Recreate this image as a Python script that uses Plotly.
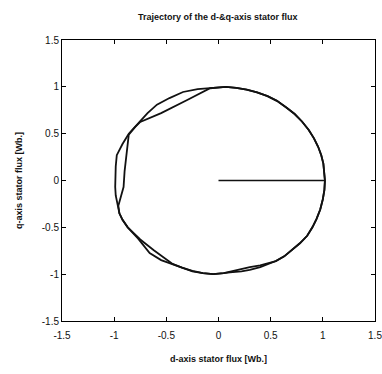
import plotly.graph_objects as go

# Flux build-up along the d-axis
startup_d = [0.0, 0.72, 1.02]
startup_q = [0.0, 0.0, 0.0]

# First revolution (with chord-like transients)
rev1_d = [1.02, 1.015, 1.005, 0.985, 0.955, 0.915, 0.865, 0.80, 0.73, 0.65, 0.56, 0.47,
          0.37, 0.27, 0.17, 0.07, -0.08, -0.30, -0.55, -0.75, -0.80, -0.86, -0.88,
          -0.90, -0.91, -0.94, -0.96, -0.95, -0.92, -0.87, -0.75, -0.62, -0.50, -0.44,
          -0.35, -0.25, -0.15, -0.05, 0.05, 0.11, 0.22, 0.30, 0.40, 0.47, 0.55, 0.63,
          0.71, 0.78, 0.85, 0.90, 0.94, 0.975, 1.00, 1.015, 1.02]
rev1_q = [0.0, 0.09, 0.18, 0.27, 0.36, 0.45, 0.54, 0.63, 0.71, 0.78, 0.85, 0.90,
          0.94, 0.97, 0.99, 1.00, 0.985, 0.86, 0.72, 0.625, 0.57, 0.49, 0.30,
          0.10, -0.07, -0.18, -0.27, -0.35, -0.42, -0.50, -0.63, -0.745, -0.84, -0.89,
          -0.93, -0.965, -0.99, -1.00, -0.99, -0.975, -0.94, -0.925, -0.905, -0.885, -0.86, -0.81,
          -0.74, -0.67, -0.59, -0.50, -0.41, -0.31, -0.20, -0.10, 0.0]

# Second revolution (steady-state circle)
rev2_d = [1.02, 1.015, 1.005, 0.985, 0.955, 0.915, 0.865, 0.80, 0.73, 0.65, 0.56, 0.47,
          0.37, 0.27, 0.17, 0.07, -0.08, -0.20, -0.34, -0.47, -0.59, -0.68, -0.75,
          -0.81, -0.86, -0.92, -0.975, -0.985, -0.99, -0.99, -0.985, -0.97, -0.95,
          -0.92, -0.87, -0.77, -0.66, -0.55, -0.44, -0.35, -0.25, -0.15, -0.05, 0.05,
          0.11, 0.22, 0.30, 0.40, 0.47, 0.55, 0.63, 0.71, 0.78, 0.85, 0.90, 0.94,
          0.975, 1.00, 1.015, 1.02]
rev2_q = [0.0, 0.09, 0.18, 0.27, 0.36, 0.45, 0.54, 0.63, 0.71, 0.78, 0.85, 0.90,
          0.94, 0.97, 0.99, 1.00, 0.99, 0.975, 0.945, 0.88, 0.81, 0.72, 0.635,
          0.56, 0.50, 0.39, 0.27, 0.15, 0.03, -0.07, -0.16, -0.25, -0.35,
          -0.42, -0.50, -0.62, -0.775, -0.85, -0.895, -0.935, -0.97, -0.99, -1.00, -0.99,
          -0.98, -0.97, -0.955, -0.925, -0.895, -0.86, -0.81, -0.74, -0.67, -0.59, -0.50, -0.41,
          -0.31, -0.20, -0.10, 0.0]

tick_vals = [-1.5, -1, -0.5, 0, 0.5, 1, 1.5]
tick_text = ["-1.5", "-1", "-0.5", "0", "0.5", "1", "1.5"]

fig = go.Figure()
fig.add_trace(go.Scatter(x=startup_d, y=startup_q, mode="lines",
                         line=dict(color="#111", width=1.5), hoverinfo="skip"))
fig.add_trace(go.Scatter(x=rev1_d, y=rev1_q, mode="lines",
                         line=dict(color="#111", width=1.8), hoverinfo="skip"))
fig.add_trace(go.Scatter(x=rev2_d, y=rev2_q, mode="lines",
                         line=dict(color="#111", width=1.8), hoverinfo="skip"))

axis_common = dict(
    tickvals=tick_vals, ticktext=tick_text, showgrid=False, zeroline=False,
    showline=True, linecolor="black", linewidth=1, mirror="ticks",
    ticks="inside", ticklen=4, tickcolor="black", automargin=False,
    ticklabeloverflow="allow",
    tickfont=dict(family="Liberation Sans, Arial", size=10, color="#111"),
)

fig.update_layout(
    width=382, height=374,
    margin=dict(l=62, r=7, t=40, b=53),
    paper_bgcolor="white", plot_bgcolor="white",
    showlegend=False,
    title=dict(text="<b>Trajectory of the d-&q-axis stator flux</b>",
               x=0.57, xanchor="center", y=0.955, yanchor="middle",
               font=dict(family="Liberation Sans Narrow, Liberation Sans, Arial", size=9, color="#111")),
    xaxis=dict(range=[-1.5, 1.5], **axis_common, ticklabelstandoff=5,
               title=dict(text="<b>d-axis stator flux [Wb.]</b>", standoff=15,
                          font=dict(family="Liberation Sans Narrow, Liberation Sans, Arial", size=9, color="#111"))),
    yaxis=dict(range=[-1.5, 1.5], **axis_common,
               title=dict(text="<b>q-axis stator flux [Wb.]</b>", standoff=17,
                          font=dict(family="Liberation Sans Narrow, Liberation Sans, Arial", size=9, color="#111"))),
)

fig.write_html("out.html", config={"displayModeBar": False},
               post_script="document.body.style.margin='0';")
